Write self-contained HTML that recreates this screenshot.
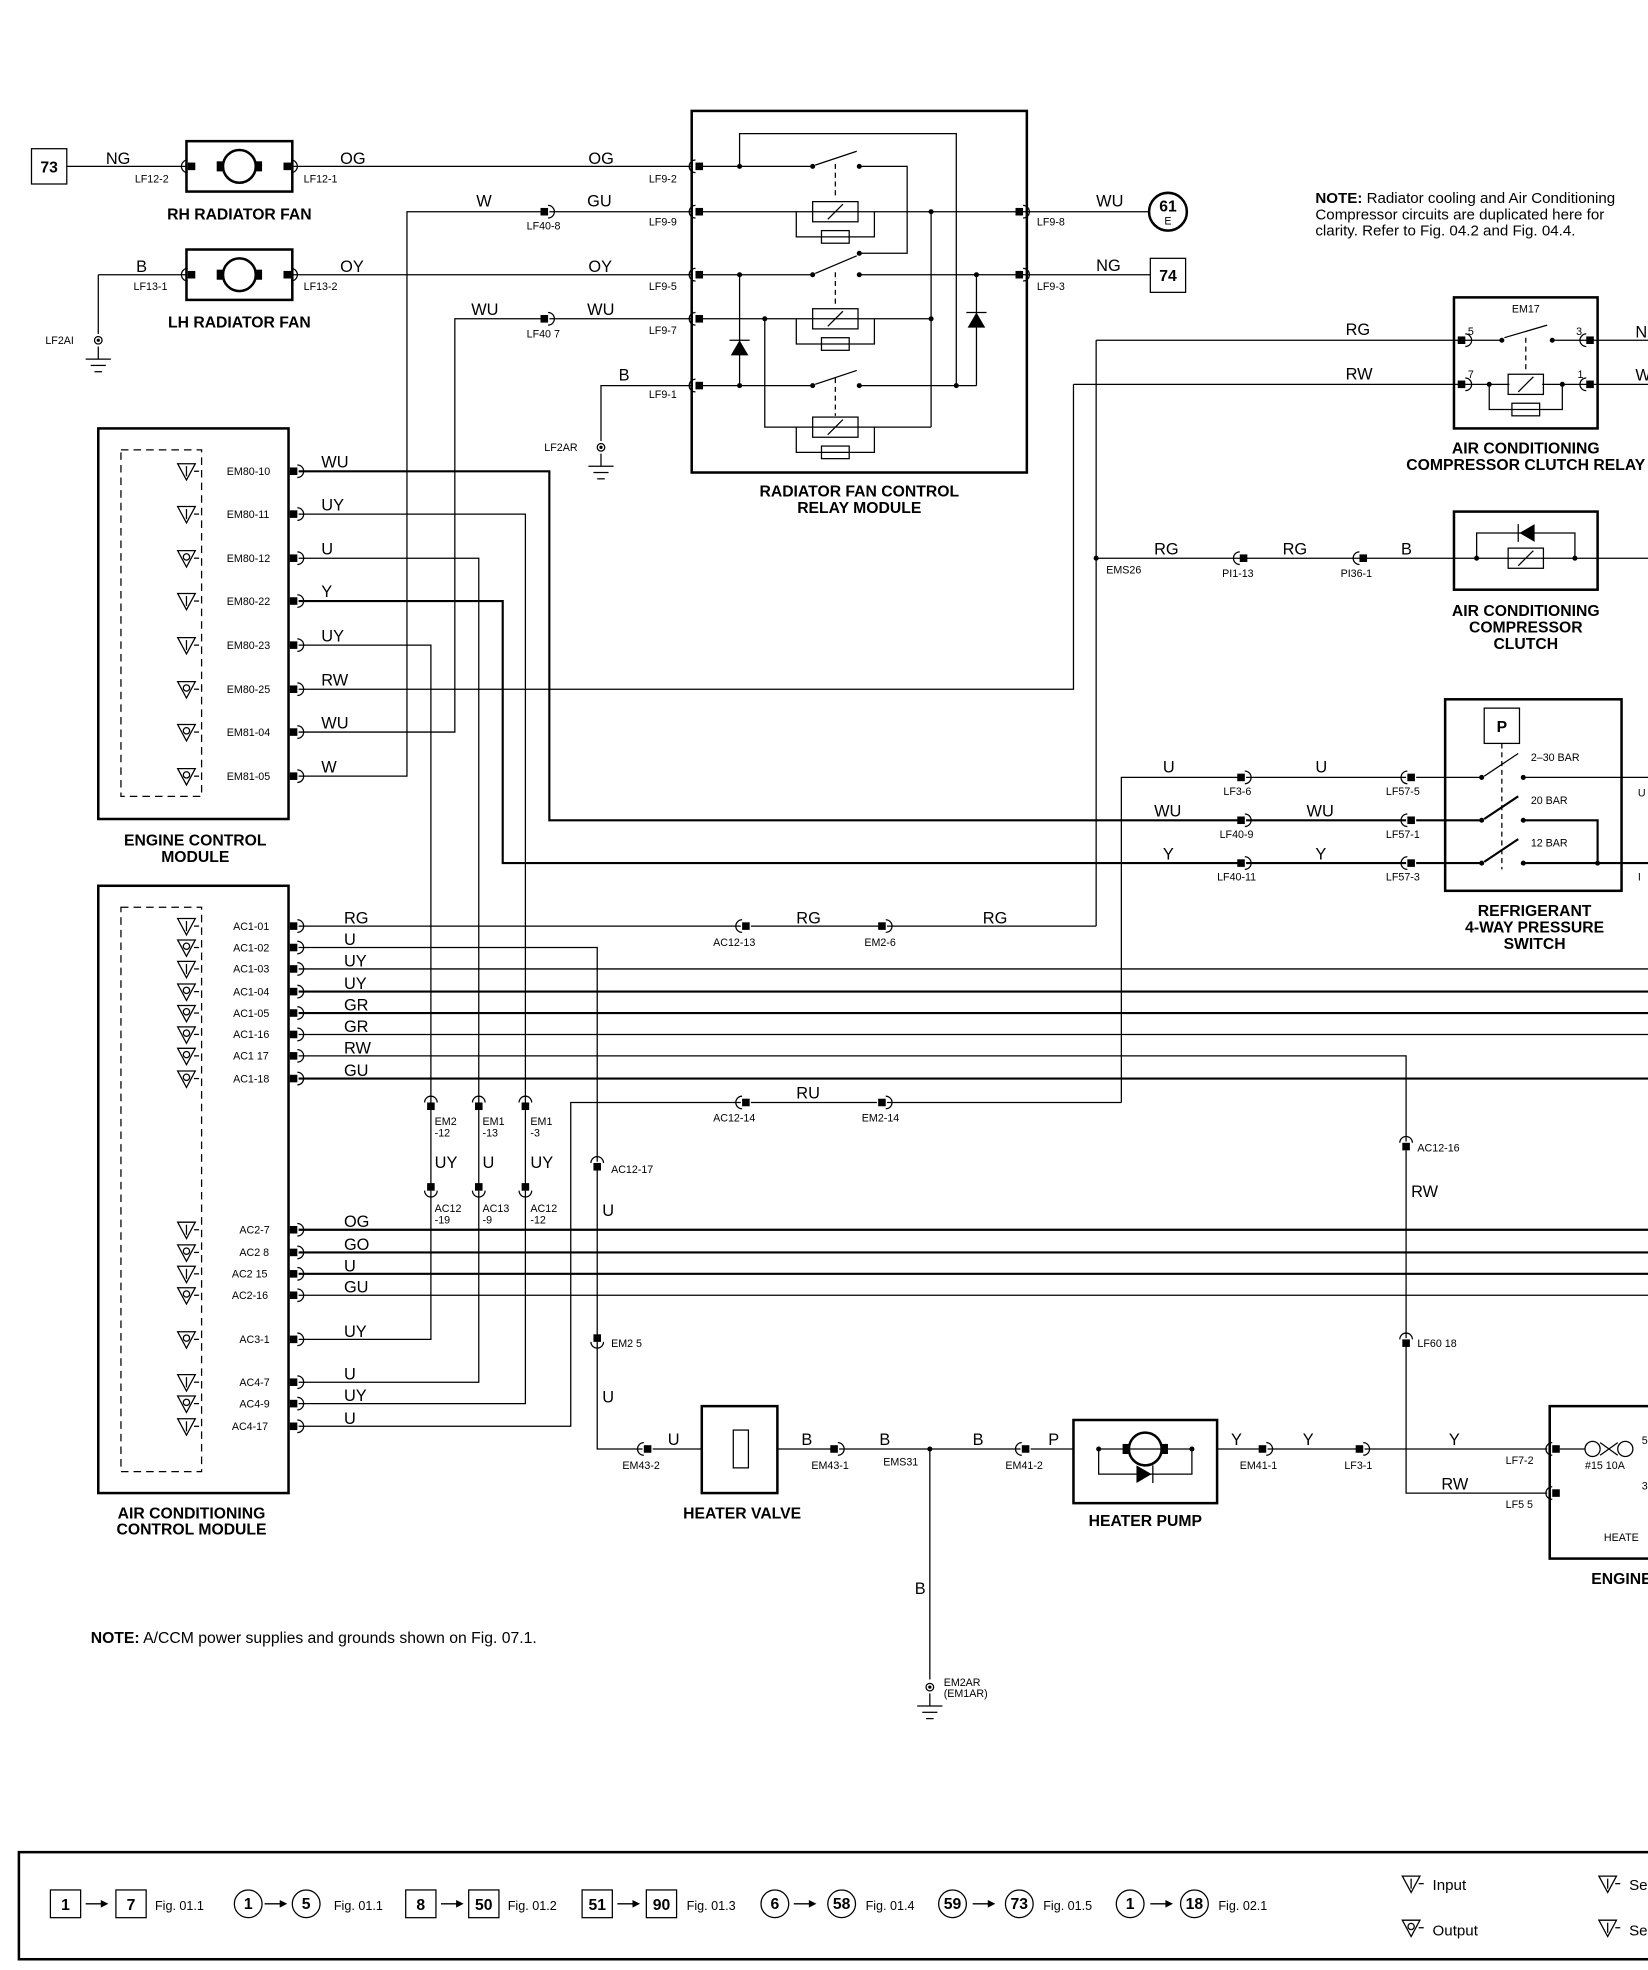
<!DOCTYPE html>
<html><head><meta charset="utf-8"><style>
html,body{margin:0;padding:0;background:#fff}
svg{display:block}
text{font-family:"Liberation Sans",sans-serif;fill:#000}
.w{stroke:#000;stroke-width:1;fill:none}
.t{stroke:#000;stroke-width:1.7;fill:none}
.b{stroke:#000;stroke-width:2;fill:none}
.lb{font-size:13px}
.pn{font-size:8.5px}
.hd{font-size:12.5px;font-weight:bold}
</style></head><body>
<svg width="1648" height="1970" viewBox="0 0 1308 1563.5" xmlns="http://www.w3.org/2000/svg">
<defs>
<g id="cR"><rect x="-3" y="-3" width="6" height="6" fill="#000"/><path d="M3,-5 A5,5 0 0 1 3,5" class="w"/></g>
<g id="cL"><rect x="-3" y="-3" width="6" height="6" fill="#000"/><path d="M-3,-5 A5,5 0 0 0 -3,5" class="w"/></g>
<g id="cD"><rect x="-3" y="-3" width="6" height="6" fill="#000"/><path d="M-5,3 A5,5 0 0 0 5,3" class="w"/></g>
<g id="cU"><rect x="-3" y="-3" width="6" height="6" fill="#000"/><path d="M-5,-3 A5,5 0 0 1 5,-3" class="w"/></g>
<g id="pI"><path d="M-7,-6 L7,-6 L0,7 Z" class="w"/><line x1="0" y1="-4" x2="0" y2="4" class="w"/><line x1="6" y1="0" x2="10" y2="0" class="w"/></g>
<g id="pO"><path d="M-7,-6 L7,-6 L0,7 Z" class="w"/><circle cx="0" cy="-1" r="2.5" class="w"/><line x1="6" y1="0" x2="10" y2="0" class="w"/></g>
<g id="gnd"><line x1="0" y1="0" x2="0" y2="10" class="w"/><line x1="-10" y1="10" x2="10" y2="10" class="w"/><line x1="-6" y1="15" x2="6" y2="15" class="w"/><line x1="-3" y1="20" x2="3" y2="20" class="w"/></g>
<g id="coil"><rect x="-18" y="-8" width="36" height="16" fill="#fff" class="w"/><line x1="-6" y1="6" x2="6" y2="-6" class="w"/><path d="M-31,0 L-31,20 L31,20 L31,0" class="w"/><rect x="-11" y="15" width="22" height="10" fill="#fff" class="w"/></g>
<g id="mot"><circle r="13" fill="#fff" class="b"/><rect x="-18" y="-4" width="5" height="8" fill="#000"/><rect x="13" y="-4" width="5" height="8" fill="#000"/></g>
<g id="arr"><line x1="0" y1="0" x2="16" y2="0" class="w"/><path d="M12,-3 L18,0 L12,3 Z" fill="#000"/></g>
</defs>

<rect x="25" y="118" width="28" height="28" class="w"/><text x="39" y="137" class="hd" text-anchor="middle">73</text>
<line x1="53" y1="132" x2="148" y2="132" class="w"/><text x="84" y="130" class="lb">NG</text>
<rect x="148" y="112" width="84" height="40" class="b"/>
<use href="#mot" x="190" y="132"/>
<use href="#cL" x="152" y="132"/><use href="#cR" x="228" y="132"/>
<text x="107" y="145" class="pn">LF12-2</text><text x="241" y="145" class="pn">LF12-1</text>
<text x="190" y="174" class="hd" text-anchor="middle">RH RADIATOR FAN</text>
<line x1="232" y1="132" x2="549" y2="132" class="w"/><text x="270" y="130" class="lb">OG</text><text x="467" y="130" class="lb">OG</text>

<line x1="78" y1="218" x2="148" y2="218" class="w"/><text x="108" y="216" class="lb">B</text>
<rect x="148" y="198" width="84" height="40" class="b"/>
<use href="#mot" x="190" y="218"/>
<use href="#cL" x="152" y="218"/><use href="#cR" x="228" y="218"/>
<text x="106" y="230" class="pn">LF13-1</text><text x="241" y="230" class="pn">LF13-2</text>
<text x="190" y="260" class="hd" text-anchor="middle">LH RADIATOR FAN</text>
<line x1="232" y1="218" x2="549" y2="218" class="w"/><text x="270" y="216" class="lb">OY</text><text x="467" y="216" class="lb">OY</text>
<line x1="78" y1="218" x2="78" y2="265" class="w"/><circle cx="78" cy="270" r="3" class="w"/><circle cx="78" cy="270" r="1.3" fill="#000"/>
<text x="36" y="273" class="pn">LF2AI</text><use href="#gnd" x="78" y="275"/>

<path d="M237,616 L323,616 L323,168 L432,168" class="w"/><use href="#cR" x="432" y="168"/>
<line x1="436" y1="168" x2="549" y2="168" class="w"/>
<text x="378" y="164" class="lb">W</text><text x="466" y="164" class="lb">GU</text><text x="418" y="182" class="pn">LF40-8</text>
<path d="M237,581 L361,581 L361,253 L432,253" class="w"/><use href="#cR" x="432" y="253"/>
<line x1="436" y1="253" x2="549" y2="253" class="w"/>
<text x="374" y="250" class="lb">WU</text><text x="466" y="250" class="lb">WU</text><text x="418" y="268" class="pn">LF40 7</text>
<path d="M549,306 L477,306 L477,350" class="w"/><text x="491" y="302" class="lb">B</text>
<circle cx="477" cy="355" r="3" class="w"/><circle cx="477" cy="355" r="1.3" fill="#000"/><text x="432" y="358" class="pn">LF2AR</text>
<use href="#gnd" x="477" y="360"/>

<rect x="549" y="88" width="266" height="287" class="b"/>
<use href="#cL" x="555" y="132"/><use href="#cL" x="555" y="168"/><use href="#cL" x="555" y="218"/><use href="#cL" x="555" y="253"/><use href="#cL" x="555" y="306"/>
<use href="#cR" x="809" y="168"/><use href="#cR" x="809" y="218"/>
<text x="515" y="145" class="pn">LF9-2</text><text x="515" y="179" class="pn">LF9-9</text><text x="515" y="230" class="pn">LF9-5</text><text x="515" y="265" class="pn">LF9-7</text><text x="515" y="316" class="pn">LF9-1</text>
<text x="823" y="179" class="pn">LF9-8</text><text x="823" y="230" class="pn">LF9-3</text>
<path d="M555,132 L645,132 M647,131 L680,120 M682,132 L720,132 L720,201 L682,201" class="w"/>
<path d="M587,132 L587,106 L759,106 L759,306" class="w"/>
<circle cx="587" cy="132" r="2" fill="#000"/><circle cx="645" cy="132" r="2" fill="#000"/><circle cx="682" cy="132" r="2" fill="#000"/>
<line x1="663" y1="130" x2="663" y2="158" class="w" stroke-dasharray="4,3"/>
<line x1="555" y1="168" x2="815" y2="168" class="w"/>
<use href="#coil" x="663" y="168"/>
<circle cx="739" cy="168" r="2" fill="#000"/>
<line x1="739" y1="168" x2="739" y2="339" class="w"/>
<path d="M555,218 L645,218 M647,217 L680,203 M682,218 L815,218" class="w"/>
<circle cx="587" cy="218" r="2" fill="#000"/><circle cx="645" cy="218" r="2" fill="#000"/><circle cx="682" cy="201" r="2" fill="#000"/><circle cx="682" cy="218" r="2" fill="#000"/><circle cx="775" cy="218" r="2" fill="#000"/>
<line x1="663" y1="216" x2="663" y2="244" class="w" stroke-dasharray="4,3"/>
<line x1="555" y1="253" x2="739" y2="253" class="w"/>
<use href="#coil" x="663" y="253"/>
<circle cx="607" cy="253" r="2" fill="#000"/><circle cx="739" cy="253" r="2" fill="#000"/>
<line x1="587" y1="218" x2="587" y2="306" class="w"/>
<path d="M580,282 L594,282 L587,270 Z" fill="#000"/><line x1="579" y1="270" x2="595" y2="270" class="w"/>
<line x1="775" y1="218" x2="775" y2="306" class="w"/>
<path d="M768,260 L782,260 L775,248 Z" fill="#000"/><line x1="767" y1="248" x2="783" y2="248" class="w"/>
<path d="M555,306 L645,306 M647,305 L680,294 M682,306 L775,306" class="w"/>
<circle cx="587" cy="306" r="2" fill="#000"/><circle cx="645" cy="306" r="2" fill="#000"/><circle cx="682" cy="306" r="2" fill="#000"/><circle cx="759" cy="306" r="2" fill="#000"/>
<line x1="663" y1="300" x2="663" y2="330" class="w" stroke-dasharray="4,3"/>
<path d="M607,253 L607,339 L739,339" class="w"/>
<use href="#coil" x="663" y="339"/>
<text x="682" y="394" class="hd" text-anchor="middle">RADIATOR FAN CONTROL</text>
<text x="682" y="407" class="hd" text-anchor="middle">RELAY MODULE</text>
<line x1="815" y1="168" x2="912" y2="168" class="w"/><text x="870" y="164" class="lb">WU</text>
<circle cx="927" cy="168" r="15" class="b"/><text x="927" y="168" class="hd" text-anchor="middle">61</text><text x="927" y="178" class="pn" text-anchor="middle">E</text>
<line x1="815" y1="218" x2="913" y2="218" class="w"/><text x="870" y="215" class="lb">NG</text>
<rect x="913" y="205" width="28" height="27" class="w"/><text x="927" y="223" class="hd" text-anchor="middle">74</text>

<text x="1044" y="161" style="font-size:12px"><tspan font-weight="bold">NOTE:</tspan>  Radiator cooling and Air Conditioning</text>
<text x="1044" y="174" style="font-size:12px">Compressor circuits are duplicated here for</text>
<text x="1044" y="187" style="font-size:12px">clarity.  Refer to Fig. 04.2 and Fig. 04.4.</text>

<rect x="1154" y="236" width="114" height="104" class="b"/>
<text x="1211" y="248" class="pn" text-anchor="middle">EM17</text>
<path d="M870,270 L1192,270 M1194,268 L1228,258 M1232,270 L1308,270" class="w"/>
<path d="M852,305 L1198,305 M1224,305 L1308,305" class="w"/>
<use href="#cR" x="1160" y="270"/><use href="#cL" x="1262" y="270"/><use href="#cR" x="1160" y="305"/><use href="#cL" x="1262" y="305"/>
<text x="1165" y="266" class="pn">5</text><text x="1251" y="266" class="pn">3</text><text x="1165" y="300" class="pn">7</text><text x="1252" y="300" class="pn">1</text>
<circle cx="1192" cy="270" r="2" fill="#000"/><circle cx="1232" cy="270" r="2" fill="#000"/>
<line x1="1211" y1="268" x2="1211" y2="296" class="w" stroke-dasharray="4,3"/>
<rect x="1197" y="297" width="28" height="16" fill="#fff" class="w"/><line x1="1205" y1="311" x2="1217" y2="299" class="w"/>
<path d="M1182,305 L1182,325 L1240,325 L1240,305" class="w"/><rect x="1200" y="320" width="22" height="10" fill="#fff" class="w"/>
<circle cx="1182" cy="305" r="2" fill="#000"/><circle cx="1240" cy="305" r="2" fill="#000"/>
<text x="1068" y="266" class="lb">RG</text><text x="1068" y="301" class="lb">RW</text>
<text x="1298" y="268" class="lb">N</text><text x="1298" y="302" class="lb">W</text>
<text x="1211" y="360" class="hd" text-anchor="middle">AIR CONDITIONING</text>
<text x="1211" y="373" class="hd" text-anchor="middle">COMPRESSOR CLUTCH RELAY</text>

<line x1="870" y1="270" x2="870" y2="735" class="w"/>
<circle cx="870" cy="443" r="2" fill="#000"/>
<line x1="870" y1="443" x2="985" y2="443" class="w"/><use href="#cL" x="987" y="443"/>
<line x1="989" y1="443" x2="1080" y2="443" class="w"/><use href="#cL" x="1082" y="443"/>
<line x1="1084" y1="443" x2="1308" y2="443" class="w"/>
<text x="878" y="455" class="pn">EMS26</text><text x="916" y="440" class="lb">RG</text><text x="1018" y="440" class="lb">RG</text><text x="1112" y="440" class="lb">B</text>
<text x="970" y="458" class="pn">PI1-13</text><text x="1064" y="458" class="pn">PI36-1</text>
<rect x="1154" y="406" width="114" height="62" class="b"/>
<path d="M1172,443 L1172,423 L1250,423 L1250,443" class="w"/>
<path d="M1218,416 L1218,430 L1206,423 Z" fill="#000"/><line x1="1205" y1="416" x2="1205" y2="430" class="w"/>
<rect x="1197" y="435" width="28" height="16" fill="#fff" class="w"/><line x1="1205" y1="449" x2="1217" y2="437" class="w"/>
<circle cx="1172" cy="443" r="2" fill="#000"/><circle cx="1250" cy="443" r="2" fill="#000"/>
<text x="1211" y="489" class="hd" text-anchor="middle">AIR CONDITIONING</text>
<text x="1211" y="502" class="hd" text-anchor="middle">COMPRESSOR</text>
<text x="1211" y="515" class="hd" text-anchor="middle">CLUTCH</text>

<rect x="78" y="340" width="151" height="310" class="b"/>
<rect x="96" y="357" width="64" height="275" class="w" stroke-dasharray="6,4"/>
<use href="#pI" x="148" y="374"/><use href="#pI" x="148" y="408"/><use href="#pO" x="148" y="443"/><use href="#pI" x="148" y="477"/><use href="#pI" x="148" y="512"/><use href="#pO" x="148" y="547"/><use href="#pO" x="148" y="581"/><use href="#pO" x="148" y="616"/>
<text x="180" y="377" class="pn">EM80-10</text><text x="180" y="411" class="pn">EM80-11</text><text x="180" y="446" class="pn">EM80-12</text><text x="180" y="480" class="pn">EM80-22</text><text x="180" y="515" class="pn">EM80-23</text><text x="180" y="550" class="pn">EM80-25</text><text x="180" y="584" class="pn">EM81-04</text><text x="180" y="619" class="pn">EM81-05</text>
<use href="#cR" x="233" y="374"/><use href="#cR" x="233" y="408"/><use href="#cR" x="233" y="443"/><use href="#cR" x="233" y="477"/><use href="#cR" x="233" y="512"/><use href="#cR" x="233" y="547"/><use href="#cR" x="233" y="581"/><use href="#cR" x="233" y="616"/>
<text x="255" y="371" class="lb">WU</text><text x="255" y="405" class="lb">UY</text><text x="255" y="440" class="lb">U</text><text x="255" y="474" class="lb">Y</text><text x="255" y="509" class="lb">UY</text><text x="255" y="544" class="lb">RW</text><text x="255" y="578" class="lb">WU</text><text x="255" y="613" class="lb">W</text>
<text x="155" y="671" class="hd" text-anchor="middle">ENGINE CONTROL</text>
<text x="155" y="684" class="hd" text-anchor="middle">MODULE</text>
<path d="M237,374 L436,374 L436,651 L985,651" class="t"/>
<path d="M237,408 L417,408 L417,875" class="w"/>
<path d="M237,443 L380,443 L380,875" class="w"/>
<path d="M237,477 L399,477 L399,685 L985,685" class="t"/>
<path d="M237,512 L342,512 L342,875" class="w"/>
<path d="M237,547 L852,547 L852,305" class="w"/>

<path d="M890,875 L890,617 L985,617" class="w"/>
<use href="#cR" x="985" y="617"/><use href="#cR" x="985" y="651"/><use href="#cR" x="985" y="685"/>
<line x1="989" y1="617" x2="1116" y2="617" class="w"/><line x1="989" y1="651" x2="1116" y2="651" class="t"/><line x1="989" y1="685" x2="1116" y2="685" class="t"/>
<use href="#cL" x="1120" y="617"/><use href="#cL" x="1120" y="651"/><use href="#cL" x="1120" y="685"/>
<text x="923" y="613" class="lb">U</text><text x="1044" y="613" class="lb">U</text><text x="916" y="648" class="lb">WU</text><text x="1037" y="648" class="lb">WU</text><text x="923" y="682" class="lb">Y</text><text x="1044" y="682" class="lb">Y</text>
<text x="971" y="631" class="pn">LF3-6</text><text x="1100" y="631" class="pn">LF57-5</text><text x="968" y="665" class="pn">LF40-9</text><text x="1100" y="665" class="pn">LF57-1</text><text x="966" y="699" class="pn">LF40-11</text><text x="1100" y="699" class="pn">LF57-3</text>
<rect x="1147" y="555" width="140" height="152" class="b"/>
<rect x="1178" y="562" width="28" height="28" class="w"/><text x="1192" y="581" class="hd" text-anchor="middle">P</text>
<line x1="1192" y1="590" x2="1192" y2="690" class="w" stroke-dasharray="4,3"/>
<path d="M1124,617 L1176,617 M1178,616 L1205,598 M1209,617 L1308,617" class="w"/>
<path d="M1124,651 L1176,651 M1178,650 L1205,632 M1209,651 L1268,651 L1268,685" class="t"/>
<path d="M1124,685 L1176,685 M1178,684 L1205,666 M1209,685 L1308,685" class="t"/>
<circle cx="1176" cy="617" r="2" fill="#000"/><circle cx="1209" cy="617" r="2" fill="#000"/><circle cx="1176" cy="651" r="2" fill="#000"/><circle cx="1209" cy="651" r="2" fill="#000"/><circle cx="1176" cy="685" r="2" fill="#000"/><circle cx="1209" cy="685" r="2" fill="#000"/><circle cx="1268" cy="685" r="2" fill="#000"/>
<text x="1215" y="604" class="pn">2–30 BAR</text><text x="1215" y="638" class="pn">20 BAR</text><text x="1215" y="672" class="pn">12 BAR</text>
<text x="1300" y="632" class="pn">U</text><text x="1300" y="699" class="pn">I</text>
<text x="1218" y="727" class="hd" text-anchor="middle">REFRIGERANT</text>
<text x="1218" y="740" class="hd" text-anchor="middle">4-WAY PRESSURE</text>
<text x="1218" y="753" class="hd" text-anchor="middle">SWITCH</text>

<rect x="78" y="703" width="151" height="482" class="b"/>
<rect x="96" y="720" width="64" height="448" class="w" stroke-dasharray="6,4"/>
<use href="#pI" x="148" y="735"/><use href="#pO" x="148" y="752"/><use href="#pI" x="148" y="769"/><use href="#pO" x="148" y="787"/><use href="#pO" x="148" y="804"/><use href="#pO" x="148" y="821"/><use href="#pO" x="148" y="838"/><use href="#pO" x="148" y="856"/>
<use href="#pI" x="148" y="976"/><use href="#pO" x="148" y="994"/><use href="#pI" x="148" y="1011"/><use href="#pO" x="148" y="1028"/><use href="#pO" x="148" y="1063"/><use href="#pI" x="148" y="1097"/><use href="#pO" x="148" y="1114"/><use href="#pI" x="148" y="1132"/>
<g class="pn">
<text x="185" y="738">AC1-01</text><text x="185" y="755">AC1-02</text><text x="185" y="772">AC1-03</text><text x="185" y="790">AC1-04</text><text x="185" y="807">AC1-05</text><text x="185" y="824">AC1-16</text><text x="185" y="841">AC1 17</text><text x="185" y="859">AC1-18</text>
<text x="190" y="979">AC2-7</text><text x="190" y="997">AC2 8</text><text x="184" y="1014">AC2 15</text><text x="184" y="1031">AC2-16</text><text x="190" y="1066">AC3-1</text><text x="190" y="1100">AC4-7</text><text x="190" y="1117">AC4-9</text><text x="184" y="1135">AC4-17</text>
</g>
<use href="#cR" x="233" y="735"/><use href="#cR" x="233" y="752"/><use href="#cR" x="233" y="769"/><use href="#cR" x="233" y="787"/><use href="#cR" x="233" y="804"/><use href="#cR" x="233" y="821"/><use href="#cR" x="233" y="838"/><use href="#cR" x="233" y="856"/>
<use href="#cR" x="233" y="976"/><use href="#cR" x="233" y="994"/><use href="#cR" x="233" y="1011"/><use href="#cR" x="233" y="1028"/><use href="#cR" x="233" y="1063"/><use href="#cR" x="233" y="1097"/><use href="#cR" x="233" y="1114"/><use href="#cR" x="233" y="1132"/>
<g class="lb">
<text x="273" y="733">RG</text><text x="273" y="750">U</text><text x="273" y="767">UY</text><text x="273" y="785">UY</text><text x="273" y="802">GR</text><text x="273" y="819">GR</text><text x="273" y="836">RW</text><text x="273" y="854">GU</text>
<text x="273" y="974">OG</text><text x="273" y="992">GO</text><text x="273" y="1009">U</text><text x="273" y="1026">GU</text><text x="273" y="1061">UY</text><text x="273" y="1095">U</text><text x="273" y="1112">UY</text><text x="273" y="1130">U</text>
</g>
<text x="152" y="1205" class="hd" text-anchor="middle">AIR CONDITIONING</text>
<text x="152" y="1218" class="hd" text-anchor="middle">CONTROL MODULE</text>

<line x1="237" y1="735" x2="588" y2="735" class="w"/><use href="#cL" x="592" y="735"/>
<line x1="596" y1="735" x2="700" y2="735" class="w"/><use href="#cR" x="700" y="735"/>
<line x1="704" y1="735" x2="870" y2="735" class="w"/>
<text x="632" y="733" class="lb">RG</text><text x="780" y="733" class="lb">RG</text>
<text x="566" y="751" class="pn">AC12-13</text><text x="686" y="751" class="pn">EM2-6</text>
<path d="M237,752 L474,752 L474,922" class="w"/>
<line x1="237" y1="769" x2="1308" y2="769" class="w"/>
<line x1="237" y1="787" x2="1308" y2="787" class="t"/>
<line x1="237" y1="804" x2="1308" y2="804" class="t"/>
<line x1="237" y1="821" x2="1308" y2="821" class="w"/>
<path d="M237,838 L1116,838 L1116,906" class="w"/>
<line x1="237" y1="856" x2="1308" y2="856" class="t"/>
<path d="M890,875 L704,875" class="w"/><use href="#cR" x="700" y="875"/>
<line x1="596" y1="875" x2="696" y2="875" class="w"/><use href="#cL" x="592" y="875"/>
<path d="M588,875 L453,875 L453,1132 L237,1132" class="w"/>
<text x="632" y="872" class="lb">RU</text><text x="566" y="890" class="pn">AC12-14</text><text x="684" y="890" class="pn">EM2-14</text>
<line x1="237" y1="976" x2="1308" y2="976" class="t"/>
<line x1="237" y1="994" x2="1308" y2="994" class="t"/>
<line x1="237" y1="1011" x2="1308" y2="1011" class="t"/>
<line x1="237" y1="1028" x2="1308" y2="1028" class="w"/>
<path d="M237,1063 L342,1063 L342,945" class="w"/>
<path d="M237,1097 L380,1097 L380,945" class="w"/>
<path d="M237,1114 L417,1114 L417,945" class="w"/>
<use href="#cU" x="342" y="878"/><use href="#cU" x="380" y="878"/><use href="#cU" x="417" y="878"/>
<line x1="342" y1="881" x2="342" y2="941" class="w"/><line x1="380" y1="881" x2="380" y2="941" class="w"/><line x1="417" y1="881" x2="417" y2="941" class="w"/>
<use href="#cD" x="342" y="942"/><use href="#cD" x="380" y="942"/><use href="#cD" x="417" y="942"/>
<g class="pn"><text x="345" y="893">EM2</text><text x="345" y="902">-12</text><text x="383" y="893">EM1</text><text x="383" y="902">-13</text><text x="421" y="893">EM1</text><text x="421" y="902">-3</text>
<text x="345" y="962">AC12</text><text x="345" y="971">-19</text><text x="383" y="962">AC13</text><text x="383" y="971">-9</text><text x="421" y="962">AC12</text><text x="421" y="971">-12</text></g>
<text x="345" y="927" class="lb">UY</text><text x="383" y="927" class="lb">U</text><text x="421" y="927" class="lb">UY</text>
<use href="#cU" x="474" y="926"/><text x="485" y="931" class="pn">AC12-17</text>
<line x1="474" y1="929" x2="474" y2="1060" class="w"/><text x="478" y="965" class="lb">U</text>
<use href="#cD" x="474" y="1062"/><text x="485" y="1069" class="pn">EM2 5</text>
<path d="M474,1065 L474,1150 L510,1150" class="w"/><text x="478" y="1113" class="lb">U</text>
<use href="#cU" x="1116" y="910"/><text x="1125" y="914" class="pn">AC12-16</text>
<line x1="1116" y1="913" x2="1116" y2="1062" class="w"/><text x="1120" y="950" class="lb">RW</text>
<use href="#cU" x="1116" y="1066"/><text x="1125" y="1069" class="pn">LF60 18</text>
<path d="M1116,1069 L1116,1185 L1228,1185" class="w"/><text x="1144" y="1182" class="lb">RW</text>

<use href="#cL" x="514" y="1150"/><line x1="518" y1="1150" x2="557" y2="1150" class="w"/><text x="530" y="1147" class="lb">U</text><text x="494" y="1166" class="pn">EM43-2</text>
<rect x="557" y="1116" width="60" height="69" class="b"/><rect x="582" y="1135" width="12" height="30" class="w"/>
<text x="589" y="1205" class="hd" text-anchor="middle">HEATER VALVE</text>
<line x1="617" y1="1150" x2="660" y2="1150" class="w"/><use href="#cR" x="662" y="1150"/><text x="636" y="1147" class="lb">B</text><text x="644" y="1166" class="pn">EM43-1</text>
<line x1="666" y1="1150" x2="810" y2="1150" class="w"/><text x="698" y="1147" class="lb">B</text><text x="772" y="1147" class="lb">B</text>
<circle cx="738" cy="1150" r="2" fill="#000"/><text x="701" y="1163" class="pn">EMS31</text>
<line x1="738" y1="1150" x2="738" y2="1333" class="w"/><text x="726" y="1265" class="lb">B</text>
<circle cx="738" cy="1339" r="3" class="w"/><circle cx="738" cy="1339" r="1.3" fill="#000"/>
<text x="749" y="1338" class="pn">EM2AR</text><text x="749" y="1347" class="pn">(EM1AR)</text>
<use href="#gnd" x="738" y="1344"/>
<use href="#cL" x="814" y="1150"/><line x1="818" y1="1150" x2="852" y2="1150" class="w"/><text x="832" y="1147" class="lb">P</text><text x="798" y="1166" class="pn">EM41-2</text>
<rect x="852" y="1127" width="114" height="66" class="b"/>
<path d="M872,1150 L872,1170 L946,1170 L946,1150 M872,1150 L946,1150" class="w"/>
<path d="M902,1163 L902,1177 L914,1170 Z" fill="#000"/><line x1="915" y1="1163" x2="915" y2="1177" class="w"/>
<use href="#mot" x="909" y="1150"/>
<circle cx="872" cy="1150" r="2" fill="#000"/><circle cx="946" cy="1150" r="2" fill="#000"/>
<text x="909" y="1211" class="hd" text-anchor="middle">HEATER PUMP</text>
<line x1="966" y1="1150" x2="1000" y2="1150" class="w"/><use href="#cR" x="1002" y="1150"/><text x="977" y="1147" class="lb">Y</text><text x="984" y="1166" class="pn">EM41-1</text>
<line x1="1006" y1="1150" x2="1077" y2="1150" class="w"/><use href="#cR" x="1079" y="1150"/><text x="1034" y="1147" class="lb">Y</text><text x="1067" y="1166" class="pn">LF3-1</text>
<line x1="1083" y1="1150" x2="1228" y2="1150" class="w"/><text x="1150" y="1147" class="lb">Y</text>
<rect x="1230" y="1116" width="90" height="121" class="b"/>
<use href="#cL" x="1235" y="1150"/><use href="#cL" x="1235" y="1185"/>
<text x="1195" y="1162" class="pn">LF7-2</text><text x="1195" y="1197" class="pn">LF5 5</text>
<path d="M1238,1150 L1258,1150" class="w"/><circle cx="1264" cy="1150" r="6" class="w"/><path d="M1270,1145 L1284,1155 M1270,1155 L1284,1145" class="w"/><circle cx="1290" cy="1150" r="6" class="w"/>
<text x="1258" y="1166" class="pn">#15 10A</text><text x="1303" y="1146" class="pn">5</text><text x="1303" y="1182" class="pn">3</text>
<text x="1273" y="1223" class="pn">HEATE</text>
<text x="1263" y="1257" class="hd">ENGINE</text>

<text x="72" y="1304" style="font-size:12.5px"><tspan font-weight="bold">NOTE:</tspan>  A/CCM power supplies and grounds shown on Fig. 07.1.</text>

<rect x="15" y="1470" width="1310" height="85" class="b"/>
<g font-size="10">
<rect x="40" y="1500" width="24" height="22" class="w"/><text x="52" y="1516" class="hd" text-anchor="middle">1</text>
<use href="#arr" x="68" y="1511"/>
<rect x="92" y="1500" width="24" height="22" class="w"/><text x="104" y="1516" class="hd" text-anchor="middle">7</text>
<text x="123" y="1516">Fig. 01.1</text>
<circle cx="197" cy="1511" r="11" class="w"/><text x="197" y="1515" class="hd" text-anchor="middle">1</text>
<use href="#arr" x="210" y="1511"/>
<circle cx="243" cy="1511" r="11" class="w"/><text x="243" y="1515" class="hd" text-anchor="middle">5</text>
<text x="265" y="1516">Fig. 01.1</text>
<rect x="322" y="1500" width="24" height="22" class="w"/><text x="334" y="1516" class="hd" text-anchor="middle">8</text>
<use href="#arr" x="350" y="1511"/>
<rect x="372" y="1500" width="24" height="22" class="w"/><text x="384" y="1516" class="hd" text-anchor="middle">50</text>
<text x="403" y="1516">Fig. 01.2</text>
<rect x="462" y="1500" width="24" height="22" class="w"/><text x="474" y="1516" class="hd" text-anchor="middle">51</text>
<use href="#arr" x="490" y="1511"/>
<rect x="513" y="1500" width="24" height="22" class="w"/><text x="525" y="1516" class="hd" text-anchor="middle">90</text>
<text x="545" y="1516">Fig. 01.3</text>
<circle cx="615" cy="1511" r="11" class="w"/><text x="615" y="1515" class="hd" text-anchor="middle">6</text>
<use href="#arr" x="630" y="1511"/>
<circle cx="668" cy="1511" r="11" class="w"/><text x="668" y="1515" class="hd" text-anchor="middle">58</text>
<text x="687" y="1516">Fig. 01.4</text>
<circle cx="756" cy="1511" r="11" class="w"/><text x="756" y="1515" class="hd" text-anchor="middle">59</text>
<use href="#arr" x="772" y="1511"/>
<circle cx="809" cy="1511" r="11" class="w"/><text x="809" y="1515" class="hd" text-anchor="middle">73</text>
<text x="828" y="1516">Fig. 01.5</text>
<circle cx="897" cy="1511" r="11" class="w"/><text x="897" y="1515" class="hd" text-anchor="middle">1</text>
<use href="#arr" x="913" y="1511"/>
<circle cx="948" cy="1511" r="11" class="w"/><text x="948" y="1515" class="hd" text-anchor="middle">18</text>
<text x="967" y="1516">Fig. 02.1</text>
</g>
<use href="#pI" x="1120" y="1495"/><text x="1137" y="1500" style="font-size:12px">Input</text>
<use href="#pO" x="1120" y="1530"/><text x="1137" y="1536" style="font-size:12px">Output</text>
<use href="#pI" x="1276" y="1495"/><text x="1293" y="1500" style="font-size:12px">Se</text>
<use href="#pI" x="1276" y="1530"/><text x="1293" y="1536" style="font-size:12px">Se</text>
</svg>
</body></html>
